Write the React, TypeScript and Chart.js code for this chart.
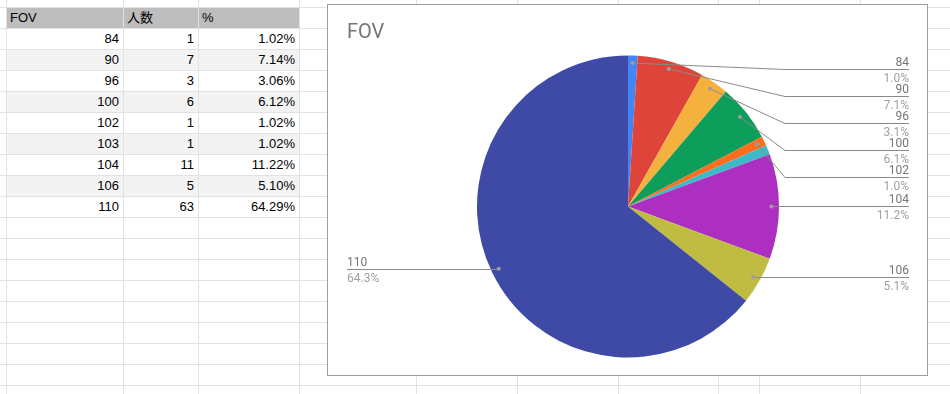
import React, { useEffect, useRef } from "react";
import { Chart, registerables } from "chart.js";

Chart.register(...registerables);

const fovLabels = ["84", "90", "96", "100", "102", "103", "104", "106", "110"];
const counts = [1, 7, 3, 6, 1, 1, 11, 5, 63];
const sliceColors = ["#4285f4", "#de4439", "#f5b13d", "#0c9e5a", "#ff6d1f", "#3cbac6", "#ad2fc2", "#c0bb41", "#3e4aa5"];
const showLabel = [true, true, true, true, true, false, true, true, true];
const headers = ["FOV", "人数", "%"];

const total = counts.reduce((a, b) => a + b, 0);

const colLines = [6, 123, 198, 299, 416, 517, 618, 718, 759, 860];
const rowTop = 7;
const rowH = 21;

const labelPlugin = {
  id: "pieLabels",
  afterDatasetsDraw(chart: any) {
    const ctx = chart.ctx;
    const meta = chart.getDatasetMeta(0);
    const arcs = meta.data;
    if (!arcs.length) return;
    const cx = arcs[0].x;
    const cy = arcs[0].y;
    const r = arcs[0].outerRadius;
    const items: any[] = [];
    arcs.forEach((arc: any, i: number) => {
      if (!showLabel[i]) return;
      const mid = (arc.startAngle + arc.endAngle) / 2;
      const dx = Math.cos(mid);
      const dy = Math.sin(mid);
      items.push({ i, px: cx + dx * r * 0.95, py: cy + dy * r * 0.95, right: dx >= 0 });
    });
    const spacing = 27;
    const place = (list: any[]) => {
      list.sort((a, b) => a.py - b.py);
      let prev = cy - r + 13 - spacing;
      for (const it of list) {
        it.ly = Math.max(it.py, prev + spacing);
        prev = it.ly;
      }
    };
    const rightItems = items.filter((t) => t.right);
    const leftItems = items.filter((t) => !t.right);
    place(rightItems);
    place(leftItems);
    const endR = cx + r + 130;
    const endL = cx - r - 130;
    const elbowR = cx + r + 6;
    const elbowL = cx - r - 6;
    ctx.save();
    ctx.lineWidth = 1;
    ctx.strokeStyle = "#8a8a8a";
    for (const it of items) {
      const ly = Math.round(it.ly) + 0.5;
      const end = it.right ? endR : endL;
      const elbow = it.right ? elbowR : elbowL;
      ctx.beginPath();
      ctx.moveTo(it.px, it.py);
      if (Math.abs(it.ly - it.py) > 0.75) {
        ctx.lineTo(elbow, ly);
      } else {
        ctx.lineTo(it.px, ly);
      }
      ctx.lineTo(end, ly);
      ctx.stroke();
      ctx.beginPath();
      ctx.fillStyle = "#9e9e9e";
      ctx.arc(it.px, it.py, 2, 0, Math.PI * 2);
      ctx.fill();
      ctx.font = "12px Roboto";
      ctx.textAlign = it.right ? "right" : "left";
      ctx.textBaseline = "alphabetic";
      ctx.fillStyle = "#757575";
      ctx.fillText(fovLabels[it.i], end, ly - 3.5);
      ctx.fillStyle = "#a0a0a0";
      ctx.fillText(((counts[it.i] / total) * 100).toFixed(1) + "%", end, ly + 12);
    }
    ctx.restore();
  },
};

function PieChart() {
  const ref = useRef<HTMLCanvasElement>(null);
  useEffect(() => {
    if (!ref.current) return;
    const chart = new Chart(ref.current, {
      type: "pie",
      data: {
        labels: fovLabels,
        datasets: [
          {
            data: counts,
            backgroundColor: sliceColors,
            borderWidth: 0,
          },
        ],
      },
      options: {
        animation: false,
        responsive: false,
        devicePixelRatio: 1,
        layout: { padding: { left: 19, right: 18, top: 0, bottom: 17.5 } },
        plugins: {
          legend: { display: false },
          tooltip: { enabled: false },
          title: {
            display: true,
            text: "FOV",
            align: "start",
            color: "#757575",
            font: { family: "Roboto", size: 20, weight: "normal", lineHeight: 1.2 },
            padding: { top: 16, bottom: 10.5 },
          },
        },
      },
      plugins: [labelPlugin],
    } as any);
    return () => chart.destroy();
  }, []);
  return <canvas ref={ref} width={599} height={370} style={{ display: "block", width: 599, height: 370 }} />;
}

export default function App() {
  const font = 'Arial, "Liberation Sans", "Noto Sans CJK JP", sans-serif';
  const cols = [
    { left: 6, right: 123 },
    { left: 123, right: 198 },
    { left: 198, right: 299 },
  ];
  const hLines: number[] = [];
  for (let y = rowTop; y < 394; y += rowH) hLines.push(y);
  const rows = fovLabels.map((f, i) => [f, String(counts[i]), ((counts[i] / total) * 100).toFixed(2) + "%"]);

  return (
    <div style={{ position: "fixed", left: 0, top: 0, width: 950, height: 394, overflow: "hidden", background: "#fff", fontFamily: font }}>
      {/* header background */}
      <div style={{ position: "absolute", left: 6, top: rowTop, width: 293, height: rowH, background: "#bdbdbd" }} />
      {rows.map((_, i) =>
        i % 2 === 1 ? (
          <div key={"bg" + i} style={{ position: "absolute", left: 6, top: rowTop + rowH * (i + 1), width: 293, height: rowH, background: "#f3f3f3" }} />
        ) : null
      )}
      {hLines.map((y) => (
        <div key={"h" + y} style={{ position: "absolute", left: 0, top: y, width: 950, height: 1, background: "#e2e2e2" }} />
      ))}
      {colLines.map((x) => (
        <div key={"v" + x} style={{ position: "absolute", left: x, top: 0, width: 1, height: 394, background: "#e2e2e2" }} />
      ))}
      {headers.map((h, c) => (
        <div key={"hd" + c} style={{ position: "absolute", left: cols[c].left + 4, top: rowTop + 1, height: rowH - 1, lineHeight: rowH - 1 + "px", fontSize: 13, color: "#000", whiteSpace: "nowrap" }}>
          {h}
        </div>
      ))}
      {rows.map((row, i) =>
        row.map((v, c) => (
          <div
            key={"c" + i + "_" + c}
            style={{
              position: "absolute",
              left: cols[c].left,
              width: cols[c].right - cols[c].left - 4,
              top: rowTop + rowH * (i + 1) + 1,
              height: rowH - 1,
              lineHeight: rowH - 1 + "px",
              fontSize: 13,
              color: "#000",
              textAlign: "right",
              whiteSpace: "nowrap",
            }}
          >
            {v}
          </div>
        ))
      )}
      <div style={{ position: "absolute", left: 327, top: 4, width: 601, height: 372, boxSizing: "border-box", border: "1px solid #9e9e9e", background: "#fff" }}>
        <PieChart />
      </div>
    </div>
  );
}
